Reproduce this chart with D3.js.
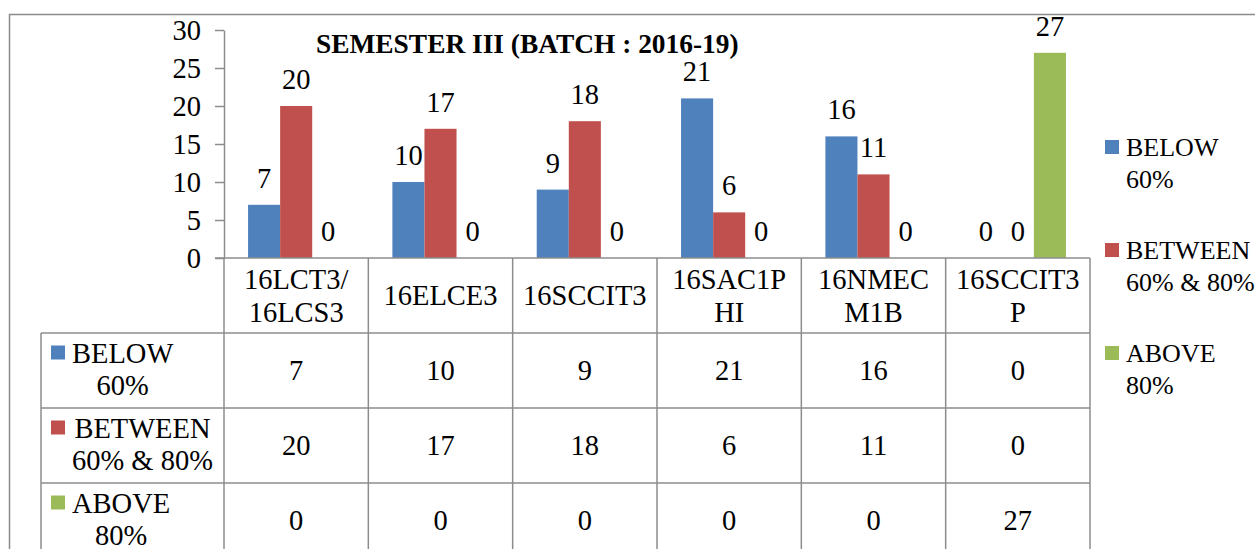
<!DOCTYPE html>
<html>
<head>
<meta charset="utf-8">
<script src="https://cdn.jsdelivr.net/npm/d3@7"></script>
<style>
  body { margin: 0; background: #fff; }
  svg text { font-family: "Liberation Serif", "Times New Roman", serif; fill: #000; }
</style>
</head>
<body>
<svg id="chart"></svg>
<script>
const W = 1255, H = 549;

// data
const categories = ['16LCT3/16LCS3', '16ELCE3', '16SCCIT3', '16SAC1PHI', '16NMECM1B', '16SCCIT3P'];
const categoryLines = [['16LCT3/', '16LCS3'], ['16ELCE3'], ['16SCCIT3'], ['16SAC1P', 'HI'], ['16NMEC', 'M1B'], ['16SCCIT3', 'P']];
const seriesNames = ['BELOW 60%', 'BETWEEN 60% & 80%', 'ABOVE 80%'];
const seriesLines = [['BELOW', '60%'], ['BETWEEN', '60% & 80%'], ['ABOVE', '80%']];
const below60 = [7, 10, 9, 21, 16, 0];
const between60_80 = [20, 17, 18, 6, 11, 0];
const above80 = [0, 0, 0, 0, 0, 27];
const yTicks = [0, 5, 10, 15, 20, 25, 30];
const title = 'SEMESTER III (BATCH : 2016-19)';

const colors = ['#4F81BD', '#C0504D', '#9BBB59'];
const lineColor = '#8c8c8c';
const fs = 28.5;      // axis, labels, table
const legendFs = 26;  // right legend

const seriesValues = [below60, between60_80, above80];

const svg = d3.select('#chart').attr('width', W).attr('height', H);

// layout
const plotLeft = 224, plotRight = 1090, plotTop = 30, plotBottom = 258;
const rowH = 75;
const tableLeft = 41;

const x = d3.scaleBand().domain(categories).range([plotLeft, plotRight]);
const bw = x.bandwidth();
const xInner = d3.scaleBand().domain(seriesNames).range([bw / 6, bw * 5 / 6]);
const y = d3.scaleLinear().domain([0, 30]).range([plotBottom, plotTop]);

// outer border
svg.append('path')
    .attr('d', `M9.5,${H + 5}V14.5H${W + 5}`)
    .attr('fill', 'none')
    .attr('stroke', lineColor)
    .attr('stroke-width', 1.5);

// bars
const barData = [];
seriesValues.forEach((vals, si) => {
    vals.forEach((v, ci) => barData.push({ s: seriesNames[si], si: si, c: categories[ci], v: v }));
});

svg.append('g').selectAll('rect')
    .data(barData.filter(d => d.v > 0))
    .enter()
    .append('rect')
    .attr('x', d => x(d.c) + xInner(d.s))
    .attr('y', d => y(d.v))
    .attr('width', xInner.bandwidth())
    .attr('height', d => y(0) - y(d.v))
    .attr('fill', d => colors[d.si]);

// data labels
svg.append('g').selectAll('text')
    .data(barData)
    .enter()
    .append('text')
    .attr('x', d => x(d.c) + xInner(d.s) + xInner.bandwidth() / 2)
    .attr('y', d => y(d.v) - 17)
    .attr('text-anchor', 'middle')
    .attr('font-size', fs)
    .text(d => d.v);

// y axis
const yAxis = d3.axisLeft(y).tickValues(yTicks).tickSize(9).tickSizeOuter(0).tickPadding(14);
const gy = svg.append('g')
    .attr('transform', `translate(${plotLeft},0)`)
    .call(yAxis);
gy.selectAll('path, line').attr('stroke', lineColor).attr('stroke-width', 1.5);
gy.selectAll('text')
    .attr('font-size', fs)
    .attr('font-family', '"Liberation Serif", serif')
    .attr('fill', '#000');

// title
svg.append('text')
    .attr('x', 316)
    .attr('y', 53)
    .attr('font-size', 27.4)
    .attr('font-weight', 'bold')
    .text(title);

// data table lines
const table = svg.append('g').attr('stroke', lineColor).attr('stroke-width', 1.5).attr('fill', 'none');
const rowY = [0, 1, 2, 3, 4].map(i => plotBottom + i * rowH);
table.append('line').attr('x1', plotLeft - 9).attr('x2', plotRight).attr('y1', rowY[0]).attr('y2', rowY[0]);
for (let r = 1; r <= 3; r++) {
    table.append('line').attr('x1', tableLeft).attr('x2', plotRight).attr('y1', rowY[r]).attr('y2', rowY[r]);
}
table.append('line').attr('x1', tableLeft).attr('x2', tableLeft).attr('y1', rowY[1]).attr('y2', H + 5);
categories.concat([null]).forEach(c => {
    const xx = c ? x(c) : plotRight;
    table.append('line').attr('x1', xx).attr('x2', xx).attr('y1', rowY[0]).attr('y2', H + 5);
});

// header cells
const lh = 33;
categoryLines.forEach((lines, ci) => {
    const cx = x(categories[ci]) + bw / 2;
    const cy = (rowY[0] + rowY[1]) / 2 + 9.5;
    lines.forEach((t, li) => {
        svg.append('text')
            .attr('x', cx)
            .attr('y', cy + (li - (lines.length - 1) / 2) * lh)
            .attr('text-anchor', 'middle')
            .attr('font-size', fs)
            .text(t);
    });
});

// value cells
seriesValues.forEach((vals, si) => {
    const cy = (rowY[si + 1] + rowY[si + 2]) / 2 + 9;
    vals.forEach((v, ci) => {
        svg.append('text')
            .attr('x', x(categories[ci]) + bw / 2)
            .attr('y', cy)
            .attr('text-anchor', 'middle')
            .attr('font-size', fs)
            .text(v);
    });
});

// legend cells in table
const tlh = 32;
seriesLines.forEach((lines, si) => {
    const cy = (rowY[si + 1] + rowY[si + 2]) / 2 + 8;
    const g = svg.append('g');
    const texts = lines.map((t, li) => g.append('text')
        .attr('y', cy + (li - 0.5) * tlh)
        .attr('text-anchor', 'middle')
        .attr('font-size', fs)
        .text(t));
    const maxW = d3.max(texts, t => t.node().getComputedTextLength());
    texts.forEach(t => t.attr('x', 72 + maxW / 2));
    g.append('rect')
        .attr('x', 51).attr('y', cy - tlh / 2 - 17)
        .attr('width', 14).attr('height', 14)
        .attr('fill', colors[si]);
});

// right legend
const legendY = [156, 259, 362];
seriesLines.forEach((lines, si) => {
    const g = svg.append('g').attr('transform', `translate(1105,${legendY[si]})`);
    g.append('rect').attr('x', 0).attr('y', -16).attr('width', 14).attr('height', 14).attr('fill', colors[si]);
    lines.forEach((t, li) => {
        g.append('text')
            .attr('x', 21)
            .attr('y', li * 32)
            .attr('font-size', legendFs)
            .text(t);
    });
});
</script>
</body>
</html>
